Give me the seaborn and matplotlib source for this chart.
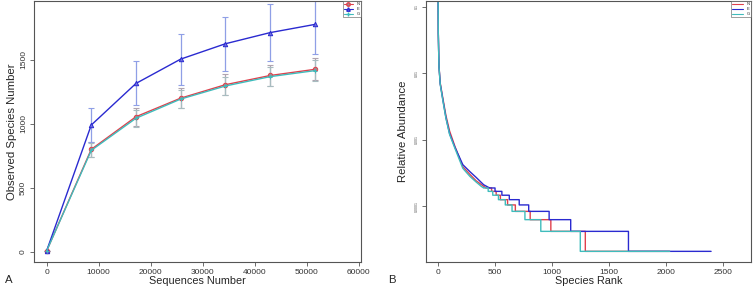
import numpy as np
import pandas as pd
import matplotlib
matplotlib.use("Agg")
import matplotlib.pyplot as plt
import seaborn as sns

# ---- panel A: rarefaction curves ----
groups = ["N", "E", "G"]
colors = {"N": "#e0404c", "E": "#2a2ad0", "G": "#3fbcbc"}
face_colors = {"N": "#9c8c90", "E": "#7070e0", "G": "#3fbcbc"}
err_colors = {"N": "#b0a4b0", "E": "#8f9fe6", "G": "#a8bcc0"}
markers = {"N": "o", "E": "^", "G": "+"}

seq_depth = [0, 8590, 17180, 25770, 34360, 42950, 51540]
obs_species = {
    "N": [5, 800, 1055, 1200, 1305, 1377, 1425],
    "E": [5, 990, 1315, 1505, 1625, 1712, 1776],
    "G": [5, 792, 1043, 1193, 1295, 1368, 1415],
}
obs_err = {
    "N": [0, 60, 70, 78, 80, 82, 85],
    "E": [0, 130, 172, 200, 212, 225, 230],
    "G": [0, 55, 65, 70, 72, 76, 80],
}

# ---- panel B: rank abundance ----
total_reads = 48000
head_rank = {
    "N": [1, 3, 9, 20, 44, 70, 102, 150, 218, 280, 335, 390, 420],
    "E": [1, 3, 9, 20, 44, 70, 102, 150, 218, 280, 335, 400, 451],
    "G": [1, 3, 9, 20, 44, 70, 102, 150, 218, 280, 335, 380, 400],
}
head_abund = {
    "N": [0.2, 0.04, 0.0128, 0.0071, 0.0041, 0.0023, 0.00135, 0.00078, 0.00039, 0.00030, 0.00024, 0.000205, 0.000188],
    "E": [0.2, 0.04, 0.0126, 0.0069, 0.0039, 0.00214, 0.00123, 0.00076, 0.00042, 0.00033, 0.00027, 0.00021, 0.000188],
    "G": [0.2, 0.04, 0.0125, 0.0068, 0.0038, 0.0021, 0.00120, 0.00073, 0.00037, 0.00028, 0.00023, 0.000198, 0.000188],
}
# rank at which each read-count level (9, 8, ..., 1) begins, and the last rank
tail_levels = [9, 8, 7, 6, 5, 4, 3, 2, 1]
tail_start = {
    "N": [420, 470, 510, 547, 610, 678, 808, 989, 1291],
    "E": [451, 500, 560, 625, 712, 795, 974, 1163, 1669],
    "G": [400, 440, 480, 530, 590, 649, 762, 901, 1247],
}
tail_end = {"N": 2030, "E": 2393, "G": 2030}

sns.set_style("ticks")
plt.rcParams["font.family"] = ["Liberation Sans", "DejaVu Sans"]
plt.rcParams["axes.edgecolor"] = "#555555"
plt.rcParams["axes.linewidth"] = 0.8

fig = plt.figure(figsize=(7.53, 2.89), dpi=100)
ax1 = fig.add_axes([0.0452, 0.0934, 0.4342, 0.9036])
ax2 = fig.add_axes([0.5657, 0.0934, 0.4320, 0.9036])

rows = []
for g in groups:
    for x, y in zip(seq_depth, obs_species[g]):
        rows.append({"depth": x, "species": y, "group": g})
rare = pd.DataFrame(rows)

for g in groups:
    ax1.errorbar(seq_depth, obs_species[g], yerr=obs_err[g], fmt="none",
                 ecolor=err_colors[g], elinewidth=0.9, capsize=2, capthick=0.8, zorder=1)
    sns.lineplot(data=rare[rare["group"] == g], x="depth", y="species",
                 color=colors[g], marker=markers[g], markersize=3.2, linewidth=1.0,
                 markeredgewidth=0.7, markeredgecolor=colors[g],
                 markerfacecolor=face_colors[g], ax=ax1, zorder=3)
ax1.set_xlim(-2400, 60400)
ax1.set_ylim(-80, 1960)
ax1.set_xticks(np.arange(0, 60001, 10000))
ax1.set_yticks([0, 500, 1000, 1500])
ax1.tick_params(labelsize=6, length=3, width=0.6, pad=2, colors="#555555", labelcolor="#333333")
for lab in ax1.get_yticklabels():
    lab.set_rotation(90)
    lab.set_va("center")
ax1.set_xlabel("Sequences Number", fontsize=7.8, labelpad=0)
ax1.set_ylabel("Observed Species Number", fontsize=8.2, labelpad=2)

handles = [plt.Line2D([], [], color=colors[g], marker=markers[g], markersize=2.5, lw=0.8,
                      markerfacecolor=face_colors[g]) for g in groups]
leg1 = ax1.legend(handles, groups, loc="upper right", fontsize=3, frameon=True, fancybox=False,
                  borderpad=0.3, handlelength=2.2, labelspacing=0.2, borderaxespad=0.05)
leg1.get_frame().set_edgecolor("#555555")
leg1.get_frame().set_linewidth(0.5)

# build rank-abundance step curves
rows = []
for g in groups:
    for r, a in zip(head_rank[g], head_abund[g]):
        rows.append({"rank": r, "abund": a, "group": g})
    starts = tail_start[g] + [tail_end[g]]
    for i, lvl in enumerate(tail_levels):
        rows.append({"rank": starts[i], "abund": lvl / total_reads, "group": g})
        rows.append({"rank": starts[i + 1], "abund": lvl / total_reads, "group": g})
rad = pd.DataFrame(rows)

sns.lineplot(data=rad, x="rank", y="abund", hue="group", hue_order=groups,
             palette=colors, sort=False, estimator=None, linewidth=1.0,
             ax=ax2, legend=False)
ax2.set_yscale("log")
ax2.set_xlim(-105, 2745)
ax2.set_ylim(1.44e-5, 0.123)
ax2.set_xticks(np.arange(0, 2501, 500))
ax2.set_yticks([0.1, 0.01, 0.001, 0.0001])
ax2.set_yticklabels(["0.1", "0.01", "0.001", "0.0001"])
ax2.yaxis.set_minor_locator(matplotlib.ticker.NullLocator())
ax2.tick_params(axis="x", labelsize=6, length=3, width=0.6, pad=2, colors="#555555", labelcolor="#333333")
ax2.tick_params(axis="y", labelsize=2.5, length=3, width=0.6, pad=2, colors="#555555", labelcolor="#555555")
for lab in ax2.get_yticklabels():
    lab.set_rotation(90)
    lab.set_va("center")
ax2.set_xlabel("Species Rank", fontsize=7.8, labelpad=0)
ax2.set_ylabel("Relative Abundance", fontsize=8.2, labelpad=5)

handles = [plt.Line2D([], [], color=colors[g], lw=0.8) for g in groups]
leg2 = ax2.legend(handles, groups, loc="upper right", fontsize=3, frameon=True, fancybox=False,
                  borderpad=0.3, handlelength=2.6, labelspacing=0.2, borderaxespad=0.05)
leg2.get_frame().set_edgecolor("#555555")
leg2.get_frame().set_linewidth(0.5)

for ax in (ax1, ax2):
    for s in ax.spines.values():
        s.set_visible(True)

fig.text(5 / 753, 1 - 280 / 289, "A", fontsize=8.2, va="center")
fig.text(388 / 753, 1 - 280 / 289, "B", fontsize=8.2, va="center")

fig.savefig("out.png", dpi=100)
